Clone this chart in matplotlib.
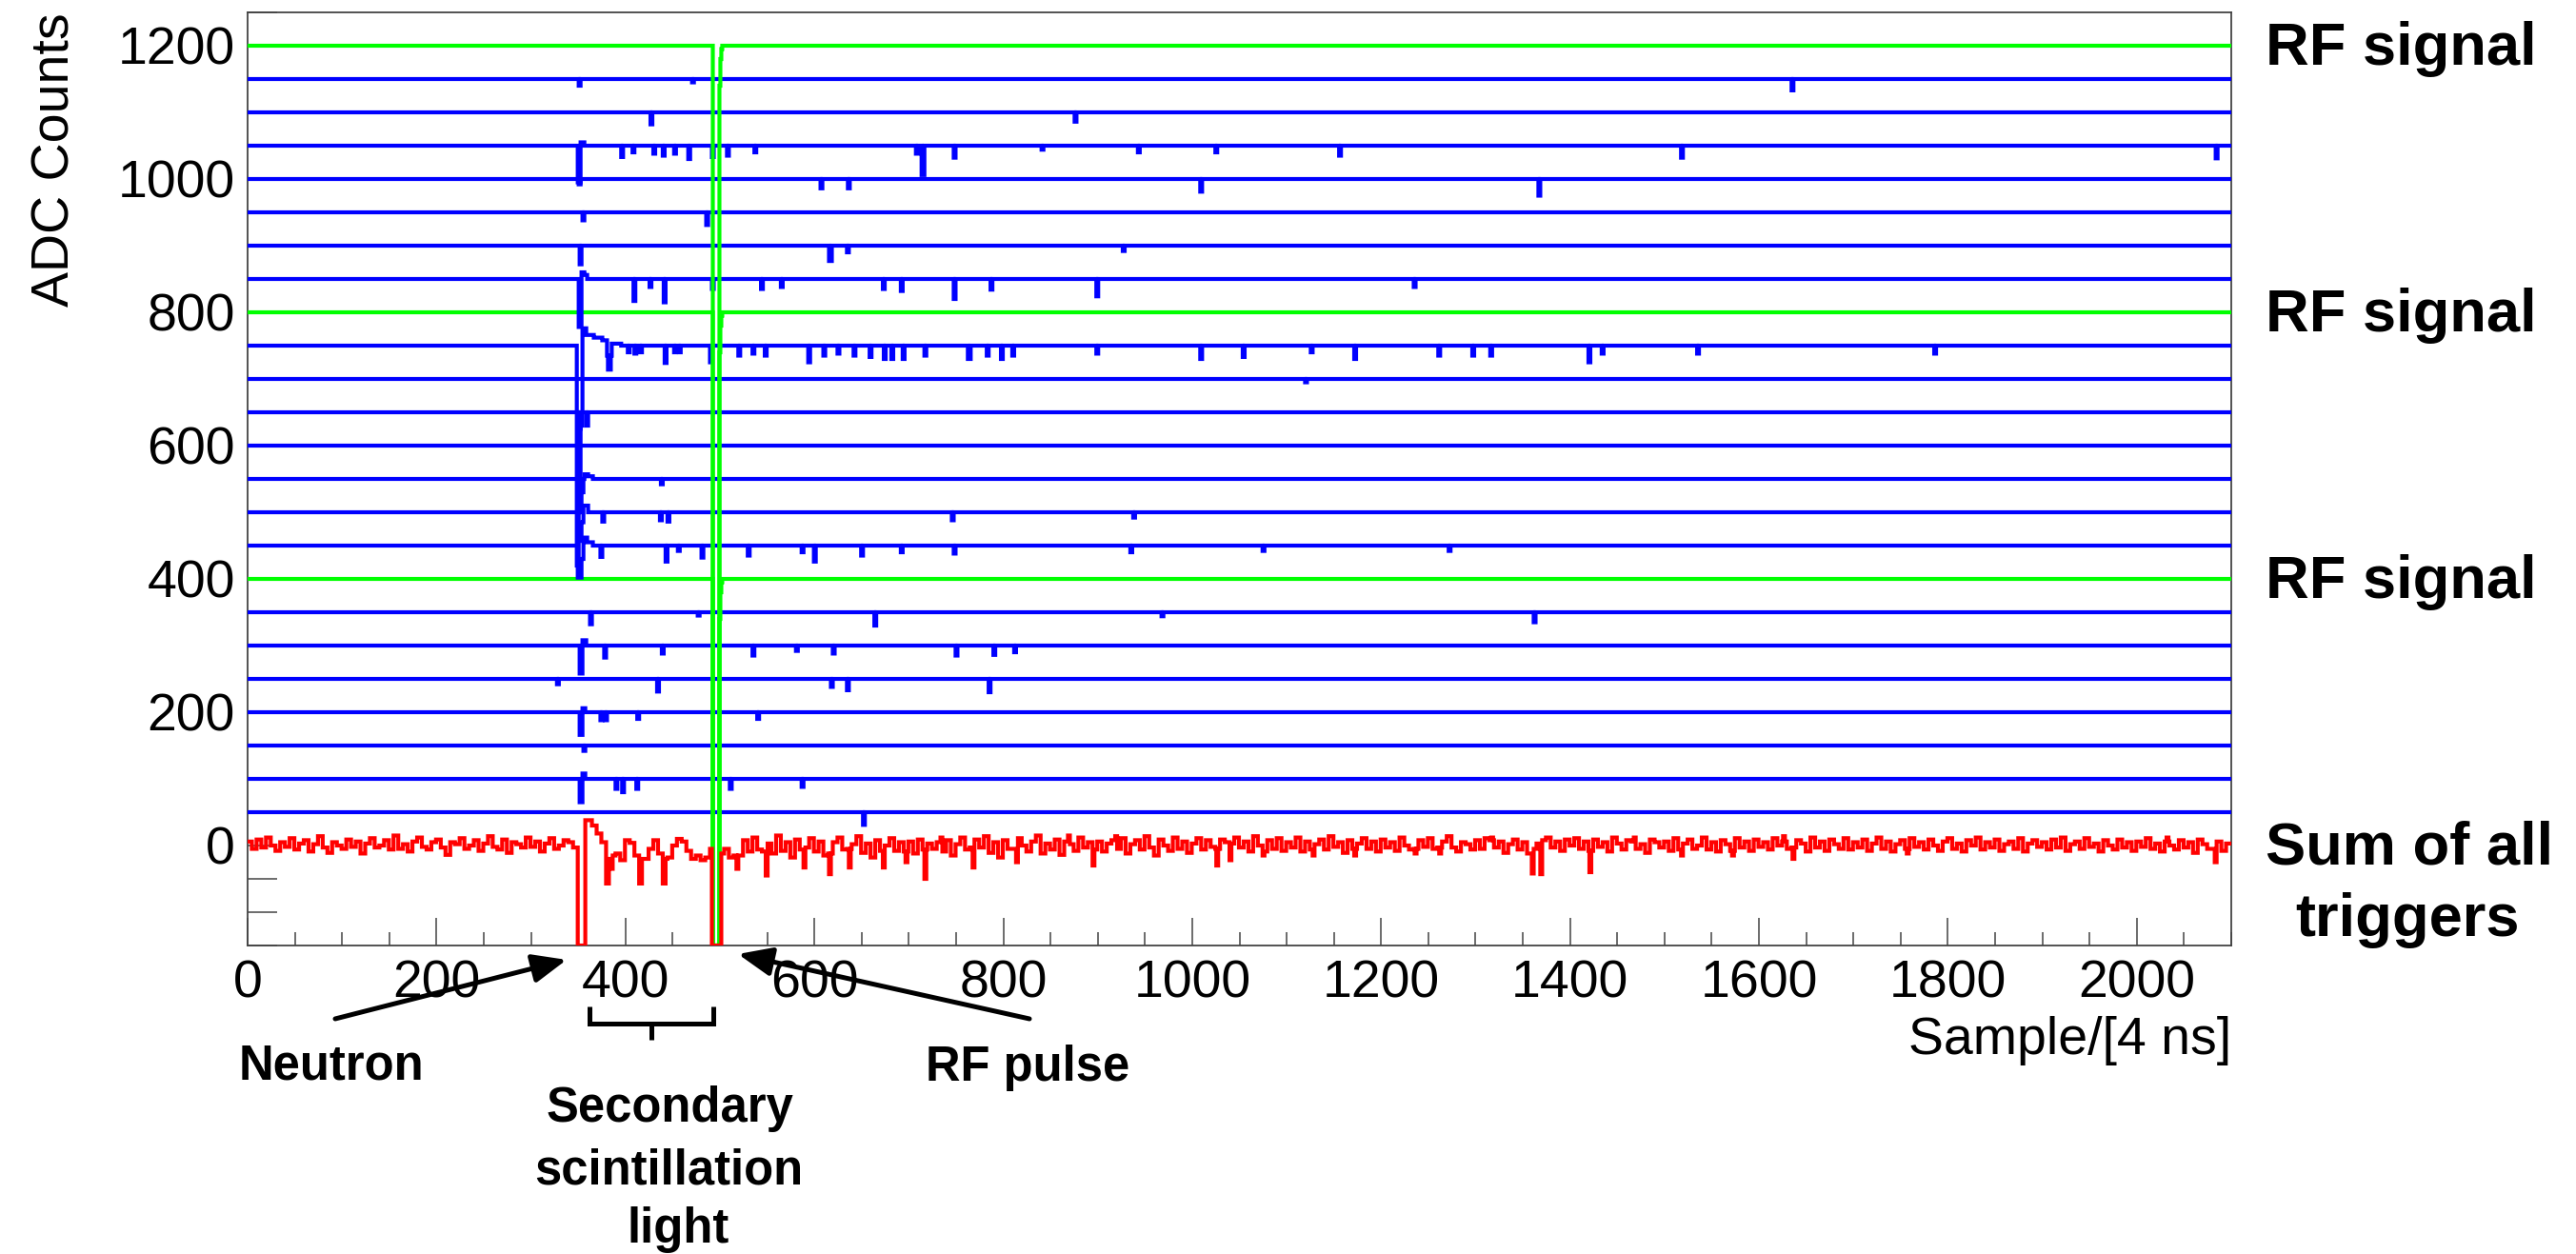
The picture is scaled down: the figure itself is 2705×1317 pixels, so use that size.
import numpy as np
import matplotlib
matplotlib.use("Agg")
import matplotlib.pyplot as plt
from matplotlib.ticker import MultipleLocator, FixedLocator
from matplotlib.lines import Line2D

plt.rcParams['font.family'] = ['Liberation Sans', 'DejaVu Sans']

# ---------------- data ----------------
n_samples = 2100
x_range = (0, 2100)
y_range = (-150, 1250)
x_tick_values = [0, 200, 400, 600, 800, 1000, 1200, 1400, 1600, 1800, 2000]
y_tick_values = [0, 200, 400, 600, 800, 1000, 1200]

# baseline of every trigger channel (ADC counts) and which are the RF channels
trace_offsets = [50, 100, 150, 200, 250, 300, 350, 400, 450, 500, 550, 600,
                 650, 700, 750, 800, 850, 900, 950, 1000, 1050, 1100, 1150, 1200]
rf_offsets = [400, 800, 1200]

# RF pulse seen on the RF channels: (first sample, n samples, level rel. baseline)
rf_pulse = [(493, 7, -1400), (500, 1, -60), (501, 1, -20), (502, 1, -5)]

# pulses on each channel: (first sample, n samples, level rel. baseline)
p50 = [(652, 2, -19)]
p100 = [(352, 3, -35), (355, 3, 8), (390, 2, -15), (397, 2, -20), (412, 2, -15),
        (511, 2, -15), (587, 2, -12)]
p150 = [(356, 2, -8)]
p200 = [(352, 3, -34), (355, 3, 6), (374, 2, -12), (379, 2, -12), (413, 2, -10),
        (540, 2, -10)]
p250 = [(328, 2, -8), (434, 2, -19), (618, 2, -12), (635, 2, -17), (785, 2, -20)]
p300 = [(352, 3, -42), (355, 4, 8), (378, 2, -18), (439, 2, -12), (535, 2, -15),
        (581, 2, -8), (620, 2, -12), (750, 2, -15), (790, 2, -14), (812, 2, -10)]
p350 = [(363, 2, -18), (477, 2, -5), (664, 2, -20), (968, 2, -6), (1362, 2, -15)]
p400 = []
p450 = [(350, 4, -48), (354, 2, -20), (356, 4, 12), (360, 6, 5), (374, 2, -17),
        (443, 2, -24), (456, 2, -8), (481, 2, -18), (530, 2, -15), (587, 2, -10),
        (600, 2, -24), (650, 2, -15), (692, 2, -10), (748, 2, -12), (935, 2, -10),
        (1075, 2, -8), (1272, 2, -8)]
p500 = [(350, 4, -43), (354, 2, -15), (356, 5, 10), (376, 2, -14), (437, 2, -12),
        (445, 2, -14), (746, 2, -12), (938, 2, -8)]
p550 = [(350, 4, -50), (354, 2, -20), (357, 4, 7), (361, 5, 4), (438, 2, -8)]
p600 = []
p650 = [(351, 2, -25), (359, 2, -20)]
p700 = [(1120, 2, -5)]
p750 = [(349, 2, -330), (351, 2, -250), (353, 2, -120), (355, 4, 26), (359, 8, 16),
        (367, 9, 12), (376, 5, 8), (381, 1, -15), (382, 3, -36), (385, 2, -15),
        (386, 10, 3), (403, 2, -10), (410, 2, -12), (416, 2, -10), (442, 2, -26),
        (452, 2, -10), (457, 2, -10), (490, 2, -25), (520, 2, -15), (535, 2, -12),
        (548, 2, -15), (594, 2, -25), (610, 2, -15), (625, 2, -12), (642, 2, -15),
        (659, 2, -17), (674, 2, -20), (682, 2, -20), (694, 2, -20), (717, 2, -15),
        (763, 3, -20), (783, 2, -15), (798, 2, -20), (810, 2, -15), (899, 2, -12),
        (1009, 2, -20), (1054, 2, -17), (1126, 2, -10), (1172, 2, -20), (1261, 2, -15),
        (1297, 2, -15), (1316, 2, -15), (1420, 2, -25), (1434, 2, -12), (1535, 2, -12),
        (1786, 2, -12)]
p800 = []
p850 = [(351, 3, -72), (354, 3, 10), (357, 3, 6), (409, 2, -33), (426, 2, -12),
        (441, 2, -35), (492, 2, -15), (544, 2, -15), (565, 2, -12), (673, 2, -15),
        (692, 2, -18), (748, 2, -30), (787, 2, -16), (899, 2, -26), (1235, 2, -12)]
p900 = [(352, 2, -28), (616, 3, -23), (635, 2, -10), (927, 2, -8)]
p950 = [(355, 2, -12), (486, 2, -19)]
p1000 = [(351, 2, -8), (607, 2, -14), (636, 2, -14), (1009, 2, -19), (1367, 2, -25)]
p1050 = [(350, 3, -55), (353, 4, 5), (396, 2, -17), (408, 2, -10), (430, 2, -12),
         (440, 2, -15), (452, 2, -12), (467, 2, -20), (492, 2, -17), (508, 2, -15),
         (537, 2, -10), (708, 2, -12), (714, 3, -44), (748, 2, -18), (841, 2, -6),
         (943, 2, -10), (1025, 2, -10), (1156, 2, -15), (1518, 2, -18), (2084, 2, -19)]
p1100 = [(427, 2, -18), (876, 2, -14)]
p1150 = [(351, 2, -10), (471, 2, -5), (1635, 2, -17)]
p1200 = []

channel_pulses = [p50, p100, p150, p200, p250, p300, p350, p400, p450, p500, p550,
                  p600, p650, p700, p750, p800, p850, p900, p950, p1000, p1050,
                  p1100, p1150, p1200]

# sum of all triggers: level in each block of 5 samples
sum_block = 5
sum_levels = [
    6, -5, 9, -3, 12, 0, -8, 5, -2, 11, -6, 3, 8, -9, 2, 14, -3, -11, 5, 0,
    -5, 9, -2, 6, -12, 3, 11, -3, 0, 8, -6, 15, -5, 2, -9, 6, 12, -2, -6, 5,
    9, -3, -14, 5, 2, 11, -5, 0, 8, -8, 3, 14, -2, -6, 9, -11, 5, 2, -3, 12,
    -2, 6, -9, 3, 11, -5, 0, 8, 5, -3, 0, 38, 38, 30, 18, 5, -20, -15, -12, -22,
    8, 4, -15, -20, -20, -5, 8, -12, -20, -18, 0, 10, 6, -8, -20, -15, -22, -18, -5, 0,
    -12, -5, -18, -15, -15, 8, -9, 12, -6, -9, 3, -12, 15, -8, 5, -18, 9, -6, -3, 11,
    -9, 6, -15, -12, 5, 12, -6, -5, 2, 14, -11, 3, -18, 8, -8, 0, 11, -8, 5, -9,
    6, -12, 9, -6, 3, -5, 5, -9, 8, -15, 2, 12, -6, -3, 9, -3, 14, -11, 5, -18,
    8, -5, -5, 11, 0, -9, 6, 15, -12, 3, -6, 9, -14, 6, 2, -8, 12, -3, 5, -6,
    6, -9, 3, 8, -5, 11, -12, 2, 8, -6, 14, -3, -15, 9, 0, -8, 12, -5, 6, -11,
    3, 11, -6, 8, -2, -5, 9, 5, 3, 12, -3, 6, -9, 14, 0, -9, 8, -5, 11, -8,
    5, -3, 12, -9, 6, -6, 2, 9, -6, 14, -2, 5, -11, 8, -5, 3, 11, -5, 6, -9,
    9, -3, 5, -8, 12, 0, -6, -5, 8, -2, 11, -5, -3, 6, 14, -3, -9, 5, 2, -6,
    8, -5, 11, 8, -3, 6, -11, 2, 9, -6, 5, -12, -5, 3, 8, 12, -3, 6, -8, 9,
    0, 11, -5, 6, -8, 9, -2, 5, -9, 12, 3, -6, 8, 6, -5, 2, -11, 9, 5, -3,
    6, -8, 11, -6, 3, 9, -5, 0, 12, -6, 5, -9, 8, 2, -8, 11, -3, 6, -8, 9,
    -2, 5, -6, 11, 0, 6, -5, -3, 8, 3, -9, 12, -3, 6, -8, 9, 2, -5, 11, -6,
    5, -3, 9, -8, 3, 12, -5, 6, -9, 2, 8, -5, 11, -2, 5, -6, 9, 0, -8, 6,
    11, -5, 3, -9, 8, 0, 12, -6, 5, -3, 9, -8, 2, 6, -5, 11, -9, 3, 8, -2,
    5, -6, 9, -3, 12, -8, 2, 6, -5, 11, -2, 3, -9, 8, 0, -6, 9, -3, 5, -8,
    6, -2, 11, -5, 3, -9, 6, 0, -6, 8, -3, 5, -11, 9, 2, -5, -5, 6, -8, 3,
]
# narrow spikes on the summed trace: (first sample, n samples, level)
sum_spikes = [(380, 3, -57), (384, 3, -35), (415, 3, -57), (440, 3, -57),
              (518, 2, -35), (549, 2, -45), (589, 2, -33), (616, 2, -43),
              (637, 2, -33), (673, 2, -33), (697, 2, -25), (717, 2, -50),
              (734, 2, 12), (768, 2, -33), (814, 2, -25), (869, 2, 15),
              (895, 2, -30), (919, 2, 14), (1026, 2, -30), (1040, 2, -22),
              (1075, 2, -15), (1128, 2, -15), (1172, 2, -15), (1236, 2, -12),
              (1262, 2, -12), (1317, 2, 12), (1360, 2, -42), (1369, 2, -43),
              (1421, 2, -40), (1468, 2, 12), (1518, 2, -15), (1572, 2, -15),
              (1626, 2, 14), (1636, 2, -20), (1757, 2, -12), (2032, 2, 12),
              (2083, 2, -25)]
# samples where the summed signal runs off the bottom of the scale (neutron, RF)
sum_offscale = [(350, 8), (492, 10)]

x_label = "Sample/[4 ns]"
y_label = "ADC Counts"

# ---------------- figure ----------------
W, H = 2705, 1317
DPI = 100
fig = plt.figure(figsize=(W / DPI, H / DPI), dpi=DPI, facecolor='white')
ax = fig.add_axes([260 / W, 1 - 993 / H, 2083 / W, 980 / H])

samples = np.arange(n_samples)


def build_trace(offset, pulses):
    y = np.full(n_samples, float(offset))
    for start, width, level in pulses:
        y[start:start + width] = offset + level
    return y


BLUE, GREEN, RED = '#0000ff', '#00ff00', '#ff0000'
LW = 3.0

for off, pulses in zip(trace_offsets, channel_pulses):
    if off in rf_offsets:
        y = build_trace(off, rf_pulse + pulses)
        y = np.maximum(y, y_range[0])
        ax.plot(samples, y, color=GREEN, lw=LW, drawstyle='steps-mid',
                solid_joinstyle='miter', zorder=3)
    else:
        y = build_trace(off, pulses)
        ax.plot(samples, y, color=BLUE, lw=LW, drawstyle='steps-mid',
                solid_joinstyle='miter', zorder=3)

sum_trace = np.repeat(np.array(sum_levels, dtype=float), sum_block)[:n_samples]
for start, width, level in sum_spikes:
    sum_trace[start:start + width] = level
for start, width in sum_offscale:
    sum_trace[start:start + width] = y_range[0]
ax.plot(samples, sum_trace, color=RED, lw=LW, drawstyle='steps-mid',
        solid_joinstyle='miter', zorder=4)

ax.set_xlim(*x_range)
ax.set_ylim(*y_range)

ax.xaxis.set_major_locator(FixedLocator(x_tick_values))
ax.xaxis.set_minor_locator(MultipleLocator(50))
ax.yaxis.set_major_locator(FixedLocator(y_tick_values))
ax.yaxis.set_minor_locator(MultipleLocator(50))

frame_c = '#444444'
for s in ax.spines.values():
    s.set_color(frame_c)
    s.set_linewidth(1.3)

ax.tick_params(axis='x', which='major', direction='in', length=20.9, width=1.1,
               color=frame_c, labelsize=40, pad=10.8, top=False)
ax.tick_params(axis='x', which='minor', direction='in', length=10, width=1.1,
               color=frame_c, top=False)
ax.tick_params(axis='y', which='major', direction='in', length=22, width=1.1,
               color=frame_c, labelsize=40, pad=9.4, right=False)
ax.tick_params(axis='y', which='minor', direction='in', length=22, width=1.1,
               color=frame_c, right=False)

ax.set_xlabel(x_label, fontsize=40, loc='right')
ax.xaxis.label.set_va('baseline')
ax.xaxis.set_label_coords(1.0, (993 - 1107) / 980)
ax.set_ylabel(y_label, fontsize=40, loc='top')
ax.yaxis.label.set_va('baseline')
ax.yaxis.set_label_coords((73 - 260) / 2083, 1.0)


def fpx(x, y):
    return (x / W, 1 - y / H)


# right-hand labels
for off in rf_offsets:
    ax.annotate('RF signal', xy=(1.0, off), xycoords=('axes fraction', 'data'),
                xytext=(36, -20), textcoords='offset pixels', ha='left',
                va='baseline', fontsize=45.5, fontweight='bold',
                annotation_clip=False)
fig.text(*fpx(2530, 908), 'Sum of all', ha='center', va='baseline',
         fontsize=45.5, fontweight='bold')
fig.text(*fpx(2528, 983), 'triggers', ha='center', va='baseline',
         fontsize=45.5, fontweight='bold')

# bottom annotations
BFS = 36.5
fig.text(*fpx(251, 1133), 'Neutron', ha='left', va='baseline', fontsize=BFS,
         fontweight='bold')
fig.text(*fpx(972, 1135), 'RF pulse', ha='left', va='baseline', fontsize=BFS,
         fontweight='bold')
fig.text(*fpx(703, 1178), 'Secondary', ha='center', va='baseline', fontsize=BFS,
         fontweight='bold')
fig.text(*fpx(702, 1243), 'scintillation', ha='center', va='baseline', fontsize=BFS,
         fontweight='bold')
fig.text(*fpx(712, 1305), 'light', ha='center', va='baseline', fontsize=BFS,
         fontweight='bold')

arrow_props = dict(arrowstyle='-|>,head_length=0.9,head_width=0.38', lw=3.6,
                   color='black', mutation_scale=24, shrinkA=0, shrinkB=0)
ax.annotate('', xy=(595, H - 1008), xycoords='figure pixels',
            xytext=(352, H - 1070), textcoords='figure pixels',
            arrowprops=arrow_props, annotation_clip=False)
ax.annotate('', xy=(775, H - 1002), xycoords='figure pixels',
            xytext=(1081, H - 1070), textcoords='figure pixels',
            arrowprops=arrow_props, annotation_clip=False)

# bracket under the secondary-light region
bx = [619 / W, 619 / W, 749 / W, 749 / W]
by = [1 - 1057 / H, 1 - 1075 / H, 1 - 1075 / H, 1 - 1057 / H]
fig.add_artist(Line2D(bx, by, transform=fig.transFigure, color='black', lw=3.6,
                      solid_joinstyle='miter', solid_capstyle='butt'))
fig.add_artist(Line2D([684 / W, 684 / W], [1 - 1075 / H, 1 - 1092 / H],
                      transform=fig.transFigure, color='black', lw=3.6,
                      solid_capstyle='butt'))

fig.savefig('out.png', dpi=DPI, facecolor='white')
